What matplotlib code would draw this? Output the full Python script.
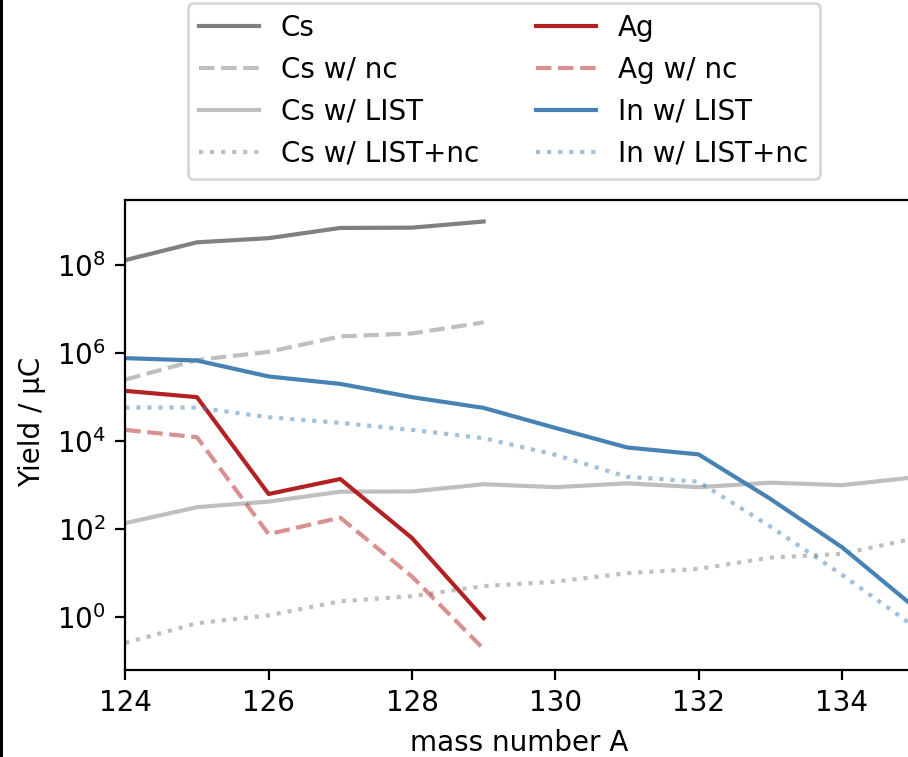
import numpy as np
import matplotlib
matplotlib.use("Agg")
import matplotlib.pyplot as plt
from matplotlib.patches import Rectangle
from matplotlib.ticker import FixedLocator, NullLocator, LogFormatterMathtext

# ---- data ----
A_cs = [124, 125, 126, 127, 128, 129]
cs = [1.3e8, 3.3e8, 4.1e8, 7.0e8, 7.1e8, 9.8e8]
cs_nc = [2.5e5, 7.0e5, 1.07e6, 2.4e6, 2.8e6, 5.0e6]

A_list = [124, 125, 126, 127, 128, 129, 130, 131, 132, 133, 134, 135]
cs_list = [137, 316, 424, 710, 720, 1050, 900, 1100, 900, 1140, 1000, 1500]
cs_list_nc = [0.26, 0.73, 1.1, 2.3, 3.0, 5.1, 6.4, 10, 12.5, 22.6, 27.5, 61]

A_ag = [124, 125, 126, 127, 128, 129]
ag = [1.39e5, 1.0e5, 630, 1380, 63, 0.95]
ag_nc = [1.8e4, 1.23e4, 77, 183, 8.4, 0.19]

in_list = [7.7e5, 6.8e5, 2.95e5, 2.0e5, 1.0e5, 5.7e4, 2.0e4, 7.2e3, 5.0e3, 490, 39, 1.75]
in_list_nc = [5.8e4, 5.8e4, 3.5e4, 2.6e4, 1.8e4, 1.17e4, 4.9e3, 1.55e3, 1.2e3, 115, 9.2, 0.63]

xticks = [124, 126, 128, 130, 132, 134]
yticks = [1e0, 1e2, 1e4, 1e6, 1e8]

W, H, DPI = 908, 757, 200
fig = plt.figure(figsize=(W / DPI, H / DPI), dpi=DPI)
fig.patches.append(Rectangle((0, 0), 3 / W, 1, transform=fig.transFigure,
                             facecolor="black", edgecolor="none", zorder=10))

ax_left, ax_right = 125.3, 913.6
ax_top, ax_bot = 200, 670
ax = fig.add_axes([ax_left / W, (H - ax_bot) / H,
                   (ax_right - ax_left) / W, (ax_bot - ax_top) / H])

red = "#b22222"
blue = "#4682b4"
ax.plot(A_cs, cs, color="gray", ls="-", label="Cs")
ax.plot(A_cs, cs_nc, color="gray", alpha=0.5, ls="--", label="Cs w/ nc")
ax.plot(A_list, cs_list, color="gray", alpha=0.5, ls="-", label="Cs w/ LIST")
ax.plot(A_list, cs_list_nc, color="gray", alpha=0.5, ls=":", label="Cs w/ LIST+nc")
ax.plot(A_ag, ag, color=red, ls="-", label="Ag")
ax.plot(A_ag, ag_nc, color=red, alpha=0.5, ls="--", label="Ag w/ nc")
ax.plot(A_list, in_list, color=blue, ls="-", label="In w/ LIST")
ax.plot(A_list, in_list_nc, color=blue, alpha=0.5, ls=":", label="In w/ LIST+nc")

ax.set_yscale("log")
ax.set_xlim(124, 135)
ax.set_ylim(10 ** -1.2, 10 ** 9.48)
ax.yaxis.set_major_locator(FixedLocator(yticks))
ax.yaxis.set_major_formatter(LogFormatterMathtext())
ax.yaxis.set_minor_locator(NullLocator())
ax.set_xticks(xticks)
ax.set_xlabel("mass number A")
ax.set_ylabel("Yield / µC", y=0.527)

fig.legend(loc="upper left", bbox_to_anchor=(187.5 / W, 1 - 3 / H),
           bbox_transform=fig.transFigure, ncol=2, borderaxespad=0,
           handlelength=2.16, columnspacing=2.05)

fig.savefig("out.png", dpi=DPI)
